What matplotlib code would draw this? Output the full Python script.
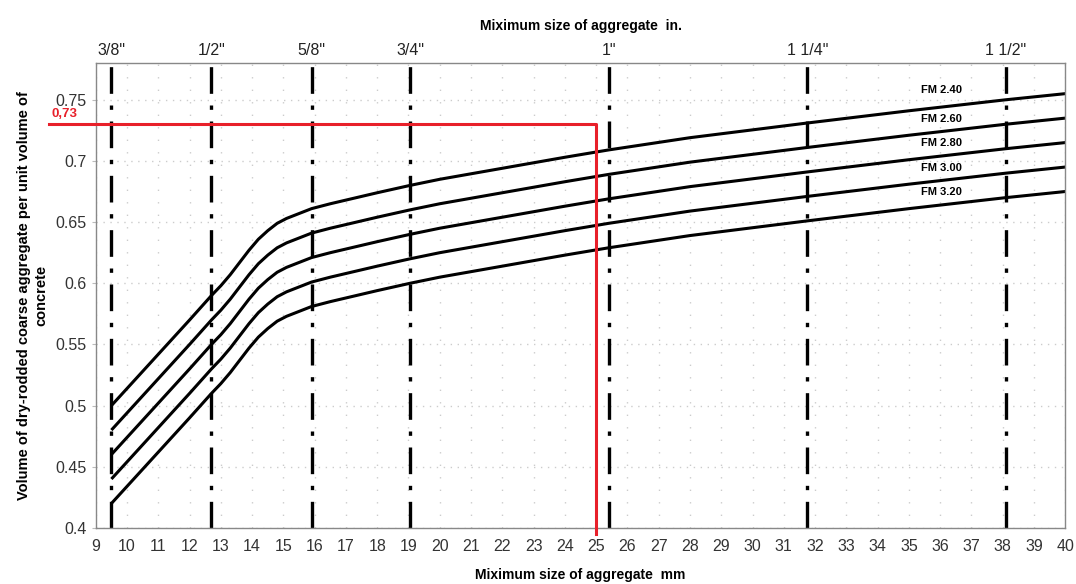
import numpy as np
import matplotlib.pyplot as plt

plt.rcParams['font.family'] = ['Liberation Sans', 'DejaVu Sans']

# Data (mm, volume fraction)
size_mm = [9.5, 10, 11, 12, 12.7, 13.0, 13.3, 13.6, 13.9, 14.2, 14.5, 14.8, 15.1, 15.4, 15.9,
           16.5, 17, 18, 19.05, 20, 22, 24, 25.4, 28, 31.75, 35, 38.1, 40]
fm240 = [0.500, 0.514, 0.542, 0.570, 0.590, 0.598, 0.607, 0.617, 0.627, 0.636, 0.643, 0.649,
         0.653, 0.656, 0.661, 0.665, 0.668, 0.674, 0.680, 0.685, 0.694, 0.703, 0.709, 0.719,
         0.731, 0.741, 0.750, 0.755]
fm260 = [0.480, 0.494, 0.522, 0.550, 0.570, 0.578, 0.587, 0.597, 0.607, 0.616, 0.623, 0.629,
         0.633, 0.636, 0.641, 0.645, 0.648, 0.654, 0.660, 0.665, 0.674, 0.683, 0.689, 0.699,
         0.711, 0.721, 0.730, 0.735]
fm280 = [0.460, 0.474, 0.502, 0.530, 0.550, 0.558, 0.567, 0.577, 0.587, 0.596, 0.603, 0.609,
         0.613, 0.616, 0.621, 0.625, 0.628, 0.634, 0.640, 0.645, 0.654, 0.663, 0.669, 0.679,
         0.691, 0.701, 0.710, 0.715]
fm300 = [0.440, 0.454, 0.482, 0.510, 0.530, 0.538, 0.547, 0.557, 0.567, 0.576, 0.583, 0.589,
         0.593, 0.596, 0.601, 0.605, 0.608, 0.614, 0.620, 0.625, 0.634, 0.643, 0.649, 0.659,
         0.671, 0.681, 0.690, 0.695]
fm320 = [0.420, 0.434, 0.462, 0.490, 0.510, 0.518, 0.527, 0.537, 0.547, 0.556, 0.563, 0.569,
         0.573, 0.576, 0.581, 0.585, 0.588, 0.594, 0.600, 0.605, 0.614, 0.623, 0.629, 0.639,
         0.651, 0.661, 0.670, 0.675]
curves = [fm240, fm260, fm280, fm300, fm320]
fm_labels = ['FM 2.40', 'FM 2.60', 'FM 2.80', 'FM 3.00', 'FM 3.20']
fm_label_y = [0.758, 0.7345, 0.715, 0.694, 0.675]

inch_mm = [9.5, 12.7, 15.9, 19.05, 25.4, 31.75, 38.1]
inch_labels = ['3/8"', '1/2"', '5/8"', '3/4"', '1"', '1 1/4"', '1 1/2"']

pick_mm = 25
pick_val = 0.73

fig = plt.figure(figsize=(10.76, 5.84), dpi=100)
ax = fig.add_axes([0.089, 0.096, 0.901, 0.796])
ax.set_xlim(9, 40)
ax.set_ylim(0.4, 0.78)

gray = '#888888'
for s in ax.spines.values():
    s.set_color(gray)
    s.set_linewidth(1.0)

ax.set_xticks(np.arange(9, 41, 1))
ax.set_yticks(np.arange(0.4, 0.76, 0.05))
ax.set_yticklabels(['0.4', '0.45', '0.5', '0.55', '0.6', '0.65', '0.7', '0.75'])
ax.tick_params(axis='both', colors='#bbbbbb', labelcolor='#333333', labelsize=11.5, length=3)
ax.tick_params(axis='x', length=0, pad=8)
ax.grid(True, axis='x', color='#cccccc', linestyle=(0, (1, 8)), linewidth=1)
ax.grid(True, axis='y', color='#cccccc', linestyle=(0, (1, 4)), linewidth=1)

# inch lines
for xm in inch_mm:
    ax.axvline(xm, color='black', linewidth=2.4, dashes=(8, 3.5, 1.3, 3.5))

for ys in curves:
    ax.plot(size_mm, ys, color='black', linewidth=2.2, solid_capstyle='butt')

for lab, yl in zip(fm_labels, fm_label_y):
    ax.text(36.05, yl, lab, fontsize=8, fontweight='bold', ha='center', va='center')

# red pick line
ax.plot([7.52, pick_mm, pick_mm], [pick_val, pick_val, 0.395], color='#e8202a',
        linewidth=2.2, clip_on=False, zorder=5)
ax.text(7.6, 0.738, '0,73', color='#e8202a', fontsize=9.5, fontweight='bold',
        ha='left', va='center', clip_on=False)

# top inch axis
top = ax.twiny()
top.set_xlim(ax.get_xlim())
top.set_xticks(inch_mm)
top.set_xticklabels(inch_labels)
top.tick_params(length=0, labelsize=11.5, labelcolor='#222222', pad=4)
for s in top.spines.values():
    s.set_visible(False)
top.set_xlabel('Miximum size of aggregate  in.', fontsize=10, fontweight='bold', labelpad=9)

ax.set_xlabel('Miximum size of aggregate  mm', fontsize=10, fontweight='bold', labelpad=10)
ax.set_ylabel('Volume of dry-rodded coarse aggregate per unit volume of\nconcrete',
              fontsize=10.5, fontweight='bold', labelpad=5, linespacing=1.35)

fig.savefig('out.png', dpi=100)
